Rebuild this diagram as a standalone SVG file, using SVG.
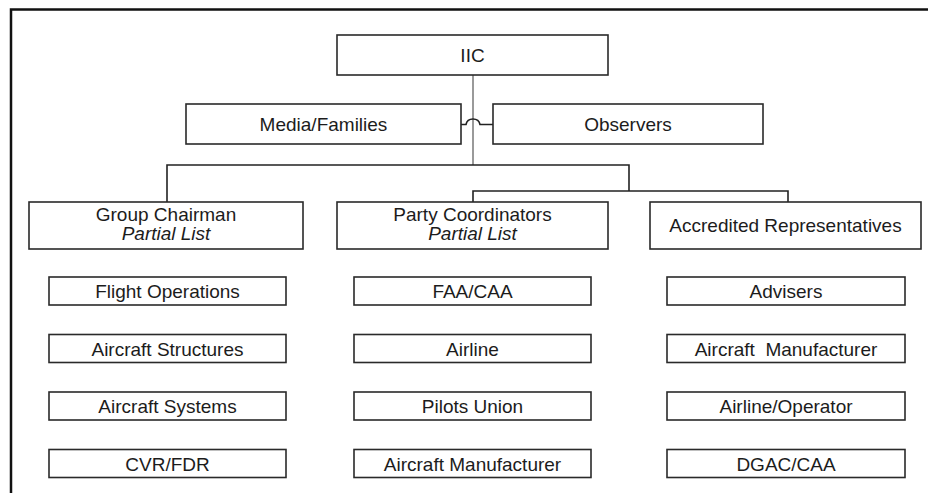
<svg xmlns="http://www.w3.org/2000/svg" width="928" height="493" viewBox="0 0 928 493">
  <style>
    .box { fill: #ffffff; stroke: #2a2a2a; stroke-width: 1.6; }
    .lbl { font-family: "Liberation Sans", Arial, sans-serif; font-size: 19px; fill: #1c1c1c; text-anchor: middle; }
    .it { font-style: italic; }
    .wire { fill: none; stroke: #222222; stroke-width: 1.6; }
    .trunk { fill: none; stroke: #9a9a9a; stroke-width: 2; }
    .frame { fill: none; stroke: #111111; stroke-width: 2.5; }
  </style>
  <rect width="928" height="493" fill="#ffffff"/>

  <!-- page frame -->
  <path class="frame" d="M11 493 V9.5 H928"/>

  <!-- connectors -->
  <g id="connectors">
    <path class="trunk" d="M473 75 V165"/>
    <path class="wire" d="M461 124.5 H466 Q467 119 473 119 Q479 119 480 124.5 H493" stroke="#555555"/>
    <path class="wire" d="M167 202 V165 H629 V191"/>
    <path class="wire" d="M473 202 V191 H788 V202"/>
  </g>

  <g id="iic">
    <rect class="box" x="337" y="35" width="271" height="40"/>
    <text class="lbl" x="472.5" y="62">IIC</text>
  </g>
  <g id="media">
    <rect class="box" x="186" y="104" width="275" height="40"/>
    <text class="lbl" x="323.5" y="131">Media/Families</text>
  </g>
  <g id="observers">
    <rect class="box" x="493" y="104" width="270" height="40"/>
    <text class="lbl" x="628" y="131">Observers</text>
  </g>

  <g id="group-chairman">
    <rect class="box" x="29" y="202" width="274" height="47"/>
    <text class="lbl" x="166" y="221">Group Chairman</text>
    <text class="lbl it" x="166" y="240">Partial List</text>
  </g>
  <g id="party-coordinators">
    <rect class="box" x="337" y="202" width="271" height="47"/>
    <text class="lbl" x="472.5" y="221">Party Coordinators</text>
    <text class="lbl it" x="472.5" y="240">Partial List</text>
  </g>
  <g id="accredited">
    <rect class="box" x="650" y="202" width="271" height="47"/>
    <text class="lbl" x="785.5" y="232">Accredited Representatives</text>
  </g>

  <!-- group chairman list -->
  <g id="flight-ops">
    <rect class="box" x="49" y="277" width="237" height="28"/>
    <text class="lbl" x="167.5" y="298">Flight Operations</text>
  </g>
  <g id="structures">
    <rect class="box" x="49" y="334.5" width="237" height="28"/>
    <text class="lbl" x="167.5" y="355.5">Aircraft Structures</text>
  </g>
  <g id="systems">
    <rect class="box" x="49" y="392" width="237" height="28"/>
    <text class="lbl" x="167.5" y="413">Aircraft Systems</text>
  </g>
  <g id="cvr-fdr">
    <rect class="box" x="49" y="449.5" width="237" height="28"/>
    <text class="lbl" x="167.5" y="470.5">CVR/FDR</text>
  </g>

  <!-- party coordinators list -->
  <g id="faa-caa">
    <rect class="box" x="354" y="277" width="237" height="28"/>
    <text class="lbl" x="472.5" y="298">FAA/CAA</text>
  </g>
  <g id="airline">
    <rect class="box" x="354" y="334.5" width="237" height="28"/>
    <text class="lbl" x="472.5" y="355.5">Airline</text>
  </g>
  <g id="pilots-union">
    <rect class="box" x="354" y="392" width="237" height="28"/>
    <text class="lbl" x="472.5" y="413">Pilots Union</text>
  </g>
  <g id="manufacturer-party">
    <rect class="box" x="354" y="449.5" width="237" height="28"/>
    <text class="lbl" x="472.5" y="470.5">Aircraft Manufacturer</text>
  </g>

  <!-- accredited representatives list -->
  <g id="advisers">
    <rect class="box" x="667" y="277" width="238" height="28"/>
    <text class="lbl" x="786" y="298">Advisers</text>
  </g>
  <g id="manufacturer-accredited">
    <rect class="box" x="667" y="334.5" width="238" height="28"/>
    <text class="lbl" x="786" y="355.5" xml:space="preserve">Aircraft  Manufacturer</text>
  </g>
  <g id="airline-operator">
    <rect class="box" x="667" y="392" width="238" height="28"/>
    <text class="lbl" x="786" y="413">Airline/Operator</text>
  </g>
  <g id="dgac-caa">
    <rect class="box" x="667" y="449.5" width="238" height="28"/>
    <text class="lbl" x="786" y="470.5">DGAC/CAA</text>
  </g>
</svg>
